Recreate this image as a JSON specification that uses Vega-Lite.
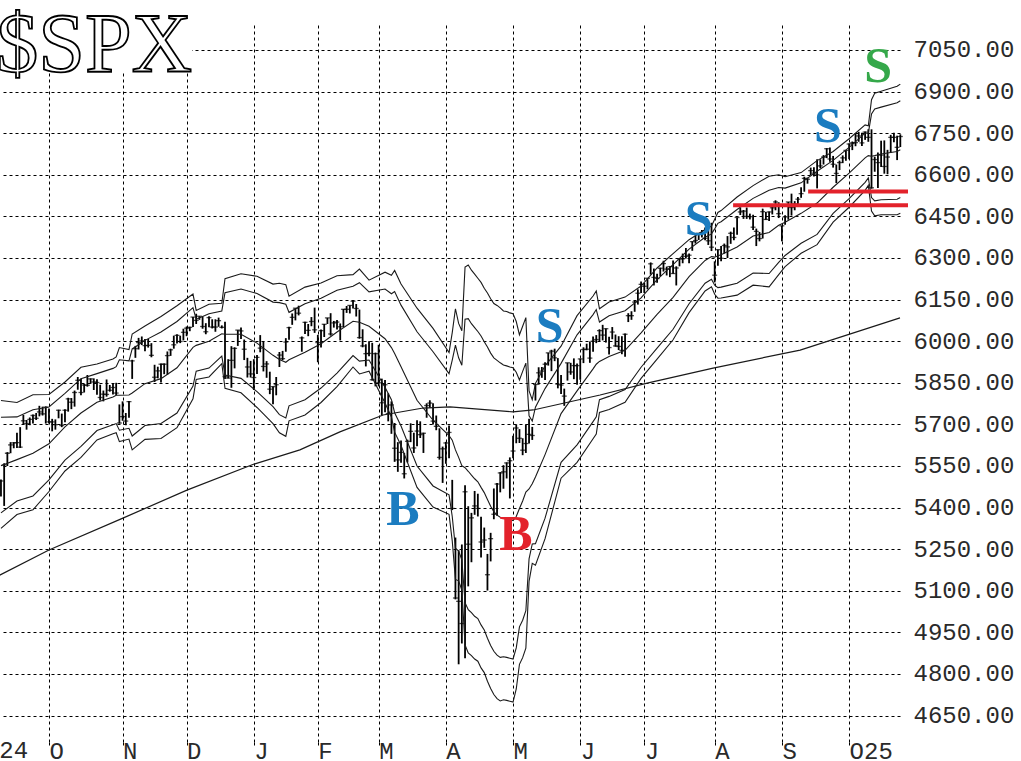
{
  "$schema": "https://vega.github.io/schema/vega-lite/v6.json",
  "width": 900,
  "height": 717,
  "autosize": {"type": "none"},
  "padding": {"left": 0, "top": 25, "right": 121, "bottom": 19},
  "background": "#ffffff",
  "config": {
    "view": {"stroke": null},
    "axis": {"grid": true, "gridColor": "#000000", "gridDash": [3, 3], "gridWidth": 1, "gridOpacity": 1, "domain": false, "labelFont": "Liberation Mono", "labelFontSize": 24, "labelColor": "#2a2a2a"}
  },
  "datasets": {
    "box": [{"d": -20, "d2": 44.7, "v": 6971, "v2": 7400}],
    "title": [{"t": "$SPX", "d": -16.5, "v": 6971}],
    "firstmonth": [{"t": "S24", "d": -20, "v": 4554.8}],
    "notes": [
      {"t": "S", "d": 259.1, "v": 6935, "grp": "c"},
      {"t": "S", "d": 243.4, "v": 6718, "grp": "a"},
      {"t": "S", "d": 203.0, "v": 6383, "grp": "a"},
      {"t": "S", "d": 156.4, "v": 5997, "grp": "a"},
      {"t": "B", "d": 110.6, "v": 5337, "grp": "a"},
      {"t": "B", "d": 145.9, "v": 5247, "grp": "b"}
    ],
    "levels": [
      {"d": 213.75, "d2": 268.4, "v": 6490},
      {"d": 237.2, "d2": 268.4, "v": 6540}
    ],
    "ma200": [
      {"d": -16, "v": 5153}, {"d": 0, "v": 5247}, {"d": 23.1, "v": 5362}, {"d": 43.1, "v": 5463},
      {"d": 64.1, "v": 5557}, {"d": 78.4, "v": 5608}, {"d": 90.9, "v": 5673}, {"d": 104.4, "v": 5734},
      {"d": 116.9, "v": 5759}, {"d": 125.3, "v": 5763}, {"d": 145, "v": 5745}, {"d": 151.3, "v": 5752},
      {"d": 172.2, "v": 5806}, {"d": 186.9, "v": 5849}, {"d": 207.5, "v": 5903}, {"d": 234.7, "v": 5968},
      {"d": 265.9, "v": 6084}
    ],
    "bands": [
      {"d":-15,"u2":5786,"u1":5726,"m":5551,"l1":5381,"l2":5325},
      {"d":-10,"u2":5779,"u1":5727,"m":5573,"l1":5424,"l2":5375},
      {"d":-5,"u2":5807,"u1":5753,"m":5596,"l1":5442,"l2":5392},
      {"d":0,"u2":5808,"u1":5763,"m":5630,"l1":5500,"l2":5458},
      {"d":5,"u2":5853,"u1":5812,"m":5691,"l1":5571,"l2":5532},
      {"d":10,"u2":5906,"u1":5865,"m":5741,"l1":5621,"l2":5581},
      {"d":15,"u2":5918,"u1":5883,"m":5780,"l1":5678,"l2":5644},
      {"d":20,"u2":5936,"u1":5902,"m":5799,"l1":5699,"l2":5666},
      {"d":21,"u2":5943,"u1":5908,"m":5805,"l1":5703,"l2":5670},
      {"d":22,"u2":5977,"u1":5933,"m":5805,"l1":5679,"l2":5638},
      {"d":25,"u2":5970,"u1":5929,"m":5806,"l1":5686,"l2":5647},
      {"d":26,"u2":6026,"u1":5972,"m":5813,"l1":5658,"l2":5608},
      {"d":30,"u2":6055,"u1":6003,"m":5847,"l1":5696,"l2":5646},
      {"d":35,"u2":6089,"u1":6033,"m":5865,"l1":5703,"l2":5649},
      {"d":40,"u2":6128,"u1":6071,"m":5904,"l1":5741,"l2":5688},
      {"d":45,"u2":6170,"u1":6121,"m":5978,"l1":5838,"l2":5792},
      {"d":46,"u2":6111,"u1":6079,"m":5985,"l1":5892,"l2":5862},
      {"d":50,"u2":6133,"u1":6099,"m":6000,"l1":5903,"l2":5871},
      {"d":54,"u2":6137,"u1":6109,"m":6027,"l1":5946,"l2":5919},
      {"d":55,"u2":6225,"u1":6175,"m":6025,"l1":5878,"l2":5830},
      {"d":60,"u2":6243,"u1":6188,"m":6025,"l1":5866,"l2":5814},
      {"d":65,"u2":6234,"u1":6172,"m":5993,"l1":5818,"l2":5761},
      {"d":70,"u2":6206,"u1":6141,"m":5949,"l1":5764,"l2":5703},
      {"d":72,"u2":6209,"u1":6139,"m":5934,"l1":5735,"l2":5670},
      {"d":74,"u2":6204,"u1":6133,"m":5924,"l1":5723,"l2":5657},
      {"d":75,"u2":6162,"u1":6104,"m":5933,"l1":5767,"l2":5713},
      {"d":80,"u2":6195,"u1":6135,"m":5960,"l1":5789,"l2":5734},
      {"d":85,"u2":6210,"u1":6155,"m":5991,"l1":5831,"l2":5779},
      {"d":90,"u2":6236,"u1":6184,"m":6033,"l1":5885,"l2":5836},
      {"d":95,"u2":6240,"u1":6198,"m":6072,"l1":5948,"l2":5907},
      {"d":97,"u2":6260,"u1":6211,"m":6068,"l1":5928,"l2":5882},
      {"d":100,"u2":6220,"u1":6178,"m":6054,"l1":5932,"l2":5892},
      {"d":105,"u2":6249,"u1":6188,"m":6009,"l1":5834,"l2":5777},
      {"d":107,"u2":6238,"u1":6171,"m":5977,"l1":5789,"l2":5727},
      {"d":108,"u2":6255,"u1":6179,"m":5956,"l1":5742,"l2":5672},
      {"d":110,"u2":6206,"u1":6130,"m":5908,"l1":5694,"l2":5624},
      {"d":115,"u2":6119,"u1":6034,"m":5787,"l1":5550,"l2":5473},
      {"d":120,"u2":6046,"u1":5962,"m":5715,"l1":5478,"l2":5402},
      {"d":125,"u2":5959,"u1":5883,"m":5660,"l1":5446,"l2":5376},
      {"d":126,"u2":6031,"u1":5932,"m":5643,"l1":5368,"l2":5280},
      {"d":127,"u2":6117,"u1":5986,"m":5608,"l1":5254,"l2":5141},
      {"d":128,"u2":6064,"u1":5940,"m":5581,"l1":5243,"l2":5136},
      {"d":129,"u2":6038,"u1":5913,"m":5551,"l1":5212,"l2":5103},
      {"d":130,"u2":6267,"u1":6079,"m":5544,"l1":5057,"l2":4905},
      {"d":131,"u2":6275,"u1":6081,"m":5531,"l1":5032,"l2":4876},
      {"d":132,"u2":6256,"u1":6063,"m":5517,"l1":5021,"l2":4866},
      {"d":133,"u2":6242,"u1":6049,"m":5504,"l1":5008,"l2":4854},
      {"d":134,"u2":6227,"u1":6035,"m":5493,"l1":5000,"l2":4846},
      {"d":135,"u2":6212,"u1":6019,"m":5473,"l1":4977,"l2":4822},
      {"d":136,"u2":6191,"u1":5998,"m":5454,"l1":4959,"l2":4805},
      {"d":137,"u2":6174,"u1":5979,"m":5429,"l1":4929,"l2":4774},
      {"d":138,"u2":6153,"u1":5957,"m":5405,"l1":4903,"l2":4748},
      {"d":139,"u2":6136,"u1":5940,"m":5385,"l1":4882,"l2":4726},
      {"d":140,"u2":6129,"u1":5931,"m":5373,"l1":4868,"l2":4711},
      {"d":141,"u2":6120,"u1":5922,"m":5365,"l1":4860,"l2":4703},
      {"d":142,"u2":6109,"u1":5914,"m":5362,"l1":4862,"l2":4707},
      {"d":143,"u2":6107,"u1":5911,"m":5360,"l1":4860,"l2":4705},
      {"d":144,"u2":6102,"u1":5907,"m":5357,"l1":4857,"l2":4702},
      {"d":145,"u2":6099,"u1":5904,"m":5353,"l1":4854,"l2":4699},
      {"d":146,"u2":6071,"u1":5888,"m":5368,"l1":4894,"l2":4746},
      {"d":147,"u2":6023,"u1":5860,"m":5397,"l1":4970,"l2":4835},
      {"d":148,"u2":6054,"u1":5891,"m":5424,"l1":4994,"l2":4859},
      {"d":149,"u2":6085,"u1":5921,"m":5456,"l1":5028,"l2":4893},
      {"d":150,"u2":5821,"u1":5731,"m":5467,"l1":5215,"l2":5134},
      {"d":151,"u2":5789,"u1":5712,"m":5486,"l1":5269,"l2":5199},
      {"d":152,"u2":5848,"u1":5762,"m":5510,"l1":5270,"l2":5192},
      {"d":155,"u2":5911,"u1":5829,"m":5591,"l1":5362,"l2":5288},
      {"d":160,"u2":5982,"u1":5920,"m":5739,"l1":5563,"l2":5506},
      {"d":165,"u2":6092,"u1":6023,"m":5821,"l1":5626,"l2":5563},
      {"d":170,"u2":6163,"u1":6096,"m":5900,"l1":5710,"l2":5648},
      {"d":171,"u2":6181,"u1":6114,"m":5917,"l1":5727,"l2":5665},
      {"d":172,"u2":6117,"u1":6069,"m":5927,"l1":5789,"l2":5743},
      {"d":175,"u2":6141,"u1":6092,"m":5945,"l1":5801,"l2":5754},
      {"d":180,"u2":6159,"u1":6110,"m":5967,"l1":5826,"l2":5780},
      {"d":185,"u2":6199,"u1":6156,"m":6030,"l1":5906,"l2":5866},
      {"d":190,"u2":6264,"u1":6222,"m":6097,"l1":5975,"l2":5935},
      {"d":195,"u2":6316,"u1":6276,"m":6158,"l1":6043,"l2":6005},
      {"d":200,"u2":6366,"u1":6332,"m":6233,"l1":6135,"l2":6103},
      {"d":205,"u2":6403,"u1":6375,"m":6291,"l1":6209,"l2":6181},
      {"d":207,"u2":6415,"u1":6387,"m":6305,"l1":6223,"l2":6196},
      {"d":208,"u2":6440,"u1":6405,"m":6303,"l1":6202,"l2":6169},
      {"d":209,"u2":6464,"u1":6425,"m":6308,"l1":6193,"l2":6155},
      {"d":210,"u2":6471,"u1":6431,"m":6312,"l1":6195,"l2":6156},
      {"d":215,"u2":6520,"u1":6475,"m":6340,"l1":6209,"l2":6166},
      {"d":220,"u2":6561,"u1":6515,"m":6379,"l1":6246,"l2":6202},
      {"d":225,"u2":6595,"u1":6544,"m":6392,"l1":6244,"l2":6196},
      {"d":228,"u2":6600,"u1":6554,"m":6418,"l1":6284,"l2":6240},
      {"d":230,"u2":6593,"u1":6552,"m":6429,"l1":6309,"l2":6269},
      {"d":235,"u2":6608,"u1":6571,"m":6461,"l1":6353,"l2":6317},
      {"d":240,"u2":6651,"u1":6613,"m":6498,"l1":6385,"l2":6348},
      {"d":245,"u2":6684,"u1":6652,"m":6555,"l1":6461,"l2":6429},
      {"d":250,"u2":6730,"u1":6699,"m":6606,"l1":6514,"l2":6483},
      {"d":255,"u2":6780,"u1":6750,"m":6661,"l1":6573,"l2":6544},
      {"d":256,"u2":6777,"u1":6750,"m":6669,"l1":6589,"l2":6562},
      {"d":257,"u2":6871,"u1":6819,"m":6667,"l1":6518,"l2":6469},
      {"d":258,"u2":6894,"u1":6837,"m":6669,"l1":6506,"l2":6452},
      {"d":260,"u2":6901,"u1":6844,"m":6675,"l1":6510,"l2":6456},
      {"d":265,"u2":6919,"u1":6860,"m":6684,"l1":6512,"l2":6456},
      {"d":266,"u2":6927,"u1":6867,"m":6690,"l1":6518,"l2":6461}
    ],
    "bars": [
      {"d":-16,"l":5434,"h":5484,"c":5471},{"d":-15,"l":5440,"h":5501,"c":5496},{"d":-14,"l":5406,"h":5560,"c":5554},{"d":-13,"l":5550,"h":5600,"c":5596},
      {"d":-12,"l":5596,"h":5636,"c":5626},{"d":-11,"l":5614,"h":5636,"c":5633},{"d":-10,"l":5615,"h":5670,"c":5634},{"d":-9,"l":5615,"h":5690,"c":5618},
      {"d":-8,"l":5700,"h":5734,"c":5713},{"d":-7,"l":5681,"h":5716,"c":5703},{"d":-6,"l":5697,"h":5725,"c":5718},{"d":-5,"l":5703,"h":5736,"c":5732},
      {"d":-4,"l":5716,"h":5741,"c":5722},{"d":-3,"l":5729,"h":5767,"c":5745},{"d":-2,"l":5732,"h":5764,"c":5738},{"d":-1,"l":5703,"h":5765,"c":5762},
      {"d":0,"l":5703,"h":5757,"c":5709},{"d":1,"l":5675,"h":5720,"c":5709},{"d":2,"l":5681,"h":5718,"c":5699},{"d":3,"l":5722,"h":5753,"c":5751},
      {"d":4,"l":5690,"h":5739,"c":5696},{"d":5,"l":5708,"h":5755,"c":5751},{"d":6,"l":5746,"h":5796,"c":5792},{"d":7,"l":5755,"h":5795,"c":5780},
      {"d":8,"l":5764,"h":5822,"c":5815},{"d":9,"l":5825,"h":5871,"c":5859},{"d":10,"l":5805,"h":5865,"c":5815},{"d":11,"l":5815,"h":5846,"c":5842},
      {"d":12,"l":5836,"h":5878,"c":5841},{"d":13,"l":5846,"h":5866,"c":5864},{"d":14,"l":5824,"h":5866,"c":5853},{"d":15,"l":5807,"h":5863,"c":5851},
      {"d":16,"l":5786,"h":5843,"c":5797},{"d":17,"l":5783,"h":5822,"c":5809},{"d":18,"l":5800,"h":5862,"c":5808},{"d":19,"l":5818,"h":5842,"c":5823},
      {"d":20,"l":5808,"h":5847,"c":5833},{"d":21,"l":5805,"h":5850,"c":5813},{"d":22,"l":5703,"h":5772,"c":5705},{"d":23,"l":5713,"h":5783,"c":5728},
      {"d":24,"l":5697,"h":5741,"c":5712},{"d":25,"l":5724,"h":5784,"c":5782},{"d":26,"l":5864,"h":5933,"c":5929},{"d":27,"l":5940,"h":5983,"c":5973},
      {"d":28,"l":5970,"h":6012,"c":5995},{"d":29,"l":5986,"h":6017,"c":6001},{"d":30,"l":5964,"h":6008,"c":5984},{"d":31,"l":5977,"h":6008,"c":5985},
      {"d":32,"l":5942,"h":5993,"c":5949},{"d":33,"l":5853,"h":5915,"c":5870},{"d":34,"l":5866,"h":5908,"c":5893},{"d":35,"l":5851,"h":5920,"c":5917},
      {"d":36,"l":5881,"h":5920,"c":5917},{"d":37,"l":5879,"h":5963,"c":5948},{"d":38,"l":5947,"h":5973,"c":5969},{"d":39,"l":5973,"h":6020,"c":5987},
      {"d":40,"l":5992,"h":6025,"c":6021},{"d":41,"l":5993,"h":6020,"c":5999},{"d":42,"l":6003,"h":6045,"c":6032},{"d":43,"l":6018,"h":6053,"c":6047},
      {"d":44,"l":6036,"h":6052,"c":6050},{"d":45,"l":6051,"h":6087,"c":6087},{"d":46,"l":6062,"h":6099,"c":6075},{"d":47,"l":6077,"h":6090,"c":6090},
      {"d":48,"l":6045,"h":6089,"c":6053},{"d":49,"l":6025,"h":6065,"c":6034},{"d":50,"l":6050,"h":6090,"c":6085},{"d":51,"l":6046,"h":6079,"c":6051},
      {"d":52,"l":6034,"h":6079,"c":6051},{"d":53,"l":6052,"h":6085,"c":6074},{"d":54,"l":6046,"h":6057,"c":6050},{"d":55,"l":5864,"h":6070,"c":5872},
      {"d":56,"l":5866,"h":5935,"c":5867},{"d":57,"l":5832,"h":5982,"c":5931},{"d":58,"l":5902,"h":5978,"c":5974},{"d":59,"l":5983,"h":6040,"c":6040},
      {"d":60,"l":6008,"h":6049,"c":6037},{"d":61,"l":5932,"h":6006,"c":5971},{"d":62,"l":5869,"h":5940,"c":5907},{"d":63,"l":5869,"h":5929,"c":5882},
      {"d":64,"l":5824,"h":5935,"c":5869},{"d":65,"l":5882,"h":5950,"c":5942},{"d":66,"l":5960,"h":6022,"c":5975},{"d":67,"l":5891,"h":6000,"c":5909},
      {"d":68,"l":5868,"h":5928,"c":5918},{"d":69,"l":5809,"h":5890,"c":5827},{"d":70,"l":5773,"h":5837,"c":5836},{"d":71,"l":5805,"h":5871,"c":5843},
      {"d":72,"l":5907,"h":5961,"c":5950},{"d":73,"l":5932,"h":5965,"c":5937},{"d":74,"l":5962,"h":6011,"c":5997},{"d":75,"l":6005,"h":6052,"c":6049},
      {"d":76,"l":6059,"h":6100,"c":6086},{"d":77,"l":6075,"h":6119,"c":6119},{"d":78,"l":6093,"h":6128,"c":6101},{"d":79,"l":5962,"h":6017,"c":6012},
      {"d":80,"l":6026,"h":6070,"c":6068},{"d":81,"l":6018,"h":6062,"c":6039},{"d":82,"l":6054,"h":6087,"c":6071},{"d":83,"l":6030,"h":6121,"c":6041},
      {"d":84,"l":5924,"h":6023,"c":5995},{"d":85,"l":5977,"h":6042,"c":6038},{"d":86,"l":6015,"h":6062,"c":6061},{"d":87,"l":6062,"h":6084,"c":6084},
      {"d":88,"l":6020,"h":6101,"c":6026},{"d":89,"l":6049,"h":6073,"c":6066},{"d":90,"l":6042,"h":6076,"c":6069},{"d":91,"l":6003,"h":6064,"c":6052},
      {"d":92,"l":6051,"h":6116,"c":6115},{"d":93,"l":6102,"h":6127,"c":6115},{"d":94,"l":6100,"h":6129,"c":6129},{"d":95,"l":6118,"h":6147,"c":6144},
      {"d":96,"l":6089,"h":6134,"c":6118},{"d":97,"l":6009,"h":6114,"c":6013},{"d":98,"l":5978,"h":6043,"c":5983},{"d":99,"l":5909,"h":5989,"c":5955},
      {"d":100,"l":5946,"h":6000,"c":5956},{"d":101,"l":5858,"h":5994,"c":5861},{"d":102,"l":5837,"h":5959,"c":5955},{"d":103,"l":5837,"h":5987,"c":5850},
      {"d":104,"l":5733,"h":5865,"c":5778},{"d":105,"l":5744,"h":5860,"c":5843},{"d":106,"l":5711,"h":5812,"c":5739},{"d":107,"l":5666,"h":5783,"c":5770},
      {"d":108,"l":5565,"h":5705,"c":5614},{"d":109,"l":5529,"h":5636,"c":5572},{"d":110,"l":5562,"h":5642,"c":5599},{"d":111,"l":5505,"h":5597,"c":5522},
      {"d":112,"l":5563,"h":5645,"c":5639},{"d":113,"l":5636,"h":5704,"c":5675},{"d":114,"l":5597,"h":5670,"c":5615},{"d":115,"l":5621,"h":5715,"c":5676},
      {"d":116,"l":5651,"h":5711,"c":5663},{"d":117,"l":5597,"h":5670,"c":5668},{"d":118,"l":5724,"h":5776,"c":5768},{"d":119,"l":5760,"h":5787,"c":5777},
      {"d":120,"l":5700,"h":5776,"c":5712},{"d":121,"l":5679,"h":5732,"c":5693},{"d":122,"l":5573,"h":5686,"c":5581},{"d":123,"l":5489,"h":5620,"c":5612},
      {"d":124,"l":5558,"h":5637,"c":5633},{"d":125,"l":5578,"h":5696,"c":5671},{"d":126,"l":5391,"h":5500,"c":5397},{"d":127,"l":5069,"h":5292,"c":5074},
      {"d":128,"l":4835,"h":5246,"c":5062},{"d":129,"l":4910,"h":5267,"c":4982},{"d":130,"l":4857,"h":5481,"c":5457},{"d":131,"l":5116,"h":5405,"c":5268},
      {"d":132,"l":5203,"h":5381,"c":5363},{"d":133,"l":5374,"h":5460,"c":5406},{"d":134,"l":5368,"h":5450,"c":5397},{"d":135,"l":5220,"h":5367,"c":5276},
      {"d":136,"l":5255,"h":5328,"c":5283},{"d":137,"l":5101,"h":5233,"c":5158},{"d":138,"l":5206,"h":5309,"c":5288},{"d":139,"l":5358,"h":5469,"c":5376},
      {"d":140,"l":5371,"h":5489,"c":5485},{"d":141,"l":5455,"h":5528,"c":5525},{"d":142,"l":5468,"h":5553,"c":5529},{"d":143,"l":5505,"h":5563,"c":5561},
      {"d":144,"l":5433,"h":5581,"c":5569},{"d":145,"l":5578,"h":5659,"c":5604},{"d":146,"l":5632,"h":5700,"c":5687},{"d":147,"l":5633,"h":5683,"c":5650},
      {"d":148,"l":5589,"h":5650,"c":5607},{"d":149,"l":5597,"h":5700,"c":5631},{"d":150,"l":5631,"h":5720,"c":5664},{"d":151,"l":5644,"h":5691,"c":5660},
      {"d":152,"l":5786,"h":5845,"c":5844},{"d":153,"l":5843,"h":5906,"c":5886},{"d":154,"l":5868,"h":5907,"c":5892},{"d":155,"l":5860,"h":5924,"c":5917},
      {"d":156,"l":5912,"h":5958,"c":5958},{"d":157,"l":5892,"h":5969,"c":5964},{"d":158,"l":5928,"h":5973,"c":5940},{"d":159,"l":5830,"h":5939,"c":5845},
      {"d":160,"l":5810,"h":5878,"c":5842},{"d":161,"l":5767,"h":5829,"c":5802},{"d":162,"l":5858,"h":5922,"c":5922},{"d":163,"l":5879,"h":5922,"c":5889},
      {"d":164,"l":5863,"h":5938,"c":5912},{"d":165,"l":5843,"h":5920,"c":5912},{"d":166,"l":5861,"h":5937,"c":5936},{"d":167,"l":5921,"h":5978,"c":5970},
      {"d":168,"l":5967,"h":5991,"c":5971},{"d":169,"l":5922,"h":5999,"c":5939},{"d":170,"l":5962,"h":6017,"c":6000},{"d":171,"l":5993,"h":6022,"c":6006},
      {"d":172,"l":5999,"h":6043,"c":6038},{"d":173,"l":6003,"h":6059,"c":6022},{"d":174,"l":5995,"h":6046,"c":6045},{"d":175,"l":5952,"h":6016,"c":5977},
      {"d":176,"l":6007,"h":6051,"c":6033},{"d":177,"l":5980,"h":6024,"c":5983},{"d":178,"l":5968,"h":6018,"c":5981},{"d":179,"l":5953,"h":6018,"c":5967},
      {"d":180,"l":5944,"h":6028,"c":6025},{"d":181,"l":6069,"h":6101,"c":6092},{"d":182,"l":6077,"h":6108,"c":6092},{"d":183,"l":6106,"h":6146,"c":6141},
      {"d":184,"l":6132,"h":6187,"c":6173},{"d":185,"l":6174,"h":6215,"c":6205},{"d":186,"l":6174,"h":6210,"c":6198},{"d":187,"l":6187,"h":6227,"c":6227},
      {"d":188,"l":6240,"h":6284,"c":6279},{"d":189,"l":6201,"h":6262,"c":6230},{"d":190,"l":6211,"h":6243,"c":6226},{"d":191,"l":6234,"h":6265,"c":6263},
      {"d":192,"l":6251,"h":6290,"c":6280},{"d":193,"l":6237,"h":6269,"c":6260},{"d":194,"l":6231,"h":6270,"c":6269},{"d":195,"l":6243,"h":6291,"c":6244},
      {"d":196,"l":6201,"h":6270,"c":6264},{"d":197,"l":6270,"h":6299,"c":6297},{"d":198,"l":6281,"h":6316,"c":6297},{"d":199,"l":6298,"h":6336,"c":6306},
      {"d":200,"l":6281,"h":6316,"c":6310},{"d":201,"l":6326,"h":6360,"c":6359},{"d":202,"l":6352,"h":6381,"c":6363},{"d":203,"l":6365,"h":6390,"c":6389},
      {"d":204,"l":6374,"h":6401,"c":6390},{"d":205,"l":6364,"h":6410,"c":6371},{"d":206,"l":6347,"h":6402,"c":6362},{"d":207,"l":6325,"h":6427,"c":6339},
      {"d":208,"l":6212,"h":6288,"c":6238},{"d":209,"l":6272,"h":6330,"c":6330},{"d":210,"l":6288,"h":6343,"c":6299},{"d":211,"l":6316,"h":6352,"c":6345},
      {"d":212,"l":6300,"h":6379,"c":6340},{"d":213,"l":6351,"h":6395,"c":6389},{"d":214,"l":6364,"h":6410,"c":6374},{"d":215,"l":6384,"h":6446,"c":6446},
      {"d":216,"l":6455,"h":6481,"c":6466},{"d":217,"l":6441,"h":6473,"c":6469},{"d":218,"l":6441,"h":6482,"c":6450},{"d":219,"l":6439,"h":6460,"c":6449},
      {"d":220,"l":6401,"h":6456,"c":6411},{"d":221,"l":6343,"h":6406,"c":6396},{"d":222,"l":6360,"h":6394,"c":6370},{"d":223,"l":6370,"h":6478,"c":6467},
      {"d":224,"l":6438,"h":6466,"c":6439},{"d":225,"l":6433,"h":6468,"c":6466},{"d":226,"l":6457,"h":6486,"c":6481},{"d":227,"l":6472,"h":6508,"c":6502},
      {"d":228,"l":6444,"h":6501,"c":6460},{"d":229,"l":6360,"h":6416,"c":6416},{"d":230,"l":6420,"h":6454,"c":6448},{"d":231,"l":6438,"h":6502,"c":6502},
      {"d":232,"l":6453,"h":6532,"c":6482},{"d":233,"l":6472,"h":6505,"c":6495},{"d":234,"l":6492,"h":6520,"c":6512},{"d":235,"l":6517,"h":6555,"c":6532},
      {"d":236,"l":6539,"h":6593,"c":6587},{"d":237,"l":6568,"h":6590,"c":6584},{"d":238,"l":6599,"h":6626,"c":6615},{"d":239,"l":6594,"h":6627,"c":6606},
      {"d":240,"l":6551,"h":6656,"c":6600},{"d":241,"l":6624,"h":6656,"c":6632},{"d":242,"l":6637,"h":6671,"c":6664},{"d":243,"l":6660,"h":6696,"c":6694},
      {"d":244,"l":6647,"h":6698,"c":6657},{"d":245,"l":6626,"h":6668,"c":6638},{"d":246,"l":6570,"h":6637,"c":6605},{"d":247,"l":6617,"h":6651,"c":6644},
      {"d":248,"l":6642,"h":6670,"c":6661},{"d":249,"l":6651,"h":6688,"c":6688},{"d":250,"l":6656,"h":6713,"c":6711},{"d":251,"l":6689,"h":6720,"c":6715},
      {"d":252,"l":6703,"h":6750,"c":6716},{"d":253,"l":6719,"h":6755,"c":6740},{"d":254,"l":6704,"h":6752,"c":6715},{"d":255,"l":6726,"h":6756,"c":6754},
      {"d":256,"l":6719,"h":6764,"c":6735},{"d":257,"l":6550,"h":6764,"c":6553},{"d":258,"l":6611,"h":6665,"c":6655},{"d":259,"l":6552,"h":6680,"c":6644},
      {"d":260,"l":6628,"h":6723,"c":6671},{"d":261,"l":6604,"h":6724,"c":6630},{"d":262,"l":6602,"h":6690,"c":6664},{"d":263,"l":6680,"h":6744,"c":6735},
      {"d":264,"l":6717,"h":6752,"c":6735},{"d":265,"l":6653,"h":6741,"c":6699},{"d":266,"l":6700,"h":6746,"c":6738}
    ]
  },
  "encoding": {
    "x": {
      "field": "d", "type": "quantitative", "title": null,
      "scale": {"domain": [-15.3, 265.9], "nice": false, "zero": false},
      "axis": {
        "values": [0, 23, 43, 64, 84, 103, 124, 145, 166, 186, 208, 229, 250],
        "labelExpr": "['O','N','D','J','F','M','A','M','J','J','A','S','O25'][indexof([0,23,43,64,84,103,124,145,166,186,208,229,250], datum.value)]",
        "grid": true, "ticks": true, "tickSize": 6, "tickDash": [3, 3], "tickColor": "#000000",
        "labelAlign": "left", "labelBaseline": "top", "labelPadding": -9, "labelFlush": false,
        "labelOverlap": false, "labelBound": false
      }
    }
  },
  "layer": [
    {
      "data": {"name": "box"},
      "mark": {"type": "rect", "color": "#ffffff"},
      "encoding": {
        "x2": {"field": "d2"},
        "y": {"field": "v", "type": "quantitative", "title": null, "scale": {"domain": [4554.8, 7140.1], "nice": false, "zero": false}},
        "y2": {"field": "v2"}
      }
    },
    {
      "data": {"name": "bars"},
      "mark": {"type": "rule", "strokeWidth": 1.8, "color": "#000000"},
      "encoding": {
        "y": {
          "field": "l", "type": "quantitative", "title": null,
          "scale": {"domain": [4554.8, 7140.1], "nice": false, "zero": false},
          "axis": {
            "orient": "right", "values": [4650, 4800, 4950, 5100, 5250, 5400, 5550, 5700, 5850, 6000, 6150, 6300, 6450, 6600, 6750, 6900, 7050],
            "format": ".2f", "grid": true, "ticks": false, "labelPadding": 13, "labelBaseline": "middle", "labelAlign": "left"
          }
        },
        "y2": {"field": "h"}
      }
    },
    {
      "data": {"name": "bars"},
      "mark": {"type": "tick", "orient": "horizontal", "size": 5, "thickness": 1.3, "color": "#000000"},
      "encoding": {
        "y": {"field": "c", "type": "quantitative", "title": null, "scale": {"domain": [4554.8, 7140.1], "nice": false, "zero": false}}
      }
    },
    {
      "data": {"name": "bands"},
      "transform": [{"fold": ["u2", "u1", "m", "l1", "l2"], "as": ["s", "v"]}],
      "mark": {"type": "line", "strokeWidth": 1.1, "color": "#1a1a1a"},
      "encoding": {
        "y": {"field": "v", "type": "quantitative", "title": null, "scale": {"domain": [4554.8, 7140.1], "nice": false, "zero": false}},
        "detail": {"field": "s", "type": "nominal"}
      }
    },
    {
      "data": {"name": "ma200"},
      "mark": {"type": "line", "strokeWidth": 1.2, "color": "#1a1a1a"},
      "encoding": {
        "y": {"field": "v", "type": "quantitative", "title": null, "scale": {"domain": [4554.8, 7140.1], "nice": false, "zero": false}}
      }
    },
    {
      "data": {"name": "levels"},
      "mark": {"type": "rule", "strokeWidth": 4, "color": "#e3222b"},
      "encoding": {
        "x2": {"field": "d2"},
        "y": {"field": "v", "type": "quantitative", "title": null, "scale": {"domain": [4554.8, 7140.1], "nice": false, "zero": false}}
      }
    },
    {
      "data": {"name": "notes"},
      "mark": {"type": "text", "font": "Liberation Serif", "fontWeight": "bold", "fontSize": 50, "align": "center", "baseline": "alphabetic"},
      "encoding": {
        "y": {"field": "v", "type": "quantitative", "title": null, "scale": {"domain": [4554.8, 7140.1], "nice": false, "zero": false}},
        "text": {"field": "t"},
        "color": {"field": "grp", "type": "nominal", "legend": null, "scale": {"domain": ["a", "b", "c"], "range": ["#1b7cc0", "#e3222b", "#35a84a"]}}
      }
    },
    {
      "data": {"name": "firstmonth"},
      "mark": {"type": "text", "font": "Liberation Mono", "fontSize": 24, "align": "left", "baseline": "top", "dy": -3, "color": "#2a2a2a"},
      "encoding": {
        "y": {"field": "v", "type": "quantitative", "title": null, "scale": {"domain": [4554.8, 7140.1], "nice": false, "zero": false}},
        "text": {"field": "t"}
      }
    },
    {
      "data": {"name": "title"},
      "mark": {"type": "text", "font": "Liberation Serif", "fontSize": 84, "align": "left", "baseline": "alphabetic", "fill": "#ffffff", "stroke": "#000000", "strokeWidth": 1.8},
      "encoding": {
        "y": {"field": "v", "type": "quantitative", "title": null, "scale": {"domain": [4554.8, 7140.1], "nice": false, "zero": false}},
        "text": {"field": "t"}
      }
    }
  ]
}
